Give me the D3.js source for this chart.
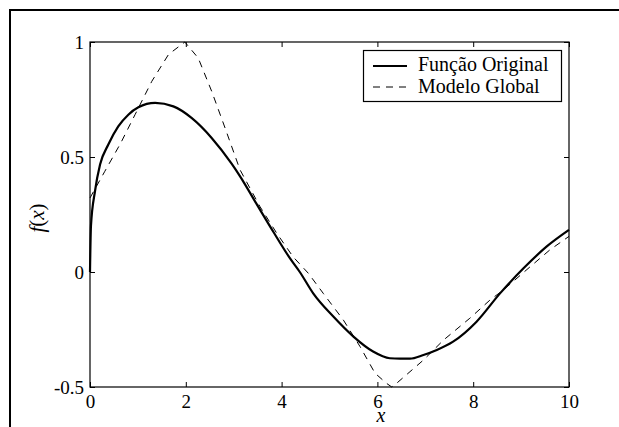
<!DOCTYPE html>
<html><head><meta charset="utf-8">
<script src="https://cdn.jsdelivr.net/npm/d3@7"></script>
<style>html,body{margin:0;padding:0;background:#fff;}svg{display:block;}</style>
</head><body>
<script>
const origX = [0,0.02,0.104,0.21,0.38,0.59,0.80,1.01,1.36,1.74,2.12,2.54,2.96,3.13,3.48,3.83,4.18,4.38,4.66,5.08,5.50,5.91,6.26,6.47,6.68,6.96,7.24,7.58,8.07,8.56,9.05,9.53,10];
const origY = [0,0.2,0.351,0.467,0.553,0.633,0.684,0.716,0.735,0.72,0.67,0.583,0.47,0.417,0.295,0.174,0.058,0.0,-0.093,-0.194,-0.281,-0.346,-0.375,-0.377,-0.377,-0.361,-0.339,-0.303,-0.216,-0.093,0.016,0.11,0.183];
const modelX = [0,0.31,0.64,0.94,1.29,1.64,1.98,2.26,2.54,2.82,3.13,3.55,3.90,4.24,4.56,4.87,5.29,5.64,5.95,6.19,6.3,6.40,6.96,7.38,7.93,8.35,8.63,9.19,9.6,10];
const modelY = [0.322,0.438,0.56,0.684,0.829,0.946,1.0,0.93,0.786,0.626,0.445,0.284,0.168,0.066,-0.006,-0.093,-0.209,-0.325,-0.44,-0.484,-0.5,-0.484,-0.383,-0.296,-0.201,-0.122,-0.078,0.023,0.096,0.155];
const xTicks = [0,2,4,6,8,10];
const yTicks = [-0.5,0,0.5,1];
const yTickLabels = ["-0.5","0","0.5","1"];
const seriesNames = ["Função Original","Modelo Global"];

const W=619,H=427;
const L=90,R=569,T=42,B=387;
const svg=d3.select("body").append("svg").attr("width",W).attr("height",H);
const font="'Liberation Serif','Times New Roman',serif";

svg.append("rect").attr("x",10).attr("y",10).attr("width",800).attr("height",600)
  .attr("fill","none").attr("stroke","#000").attr("stroke-width",2);

const x=d3.scaleLinear().domain([0,10]).range([L,R]);
const y=d3.scaleLinear().domain([-0.5,1]).range([B,T]);

const g=svg.append("g");
const tl=5;
g.append("g").attr("transform",`translate(0,${B})`)
 .call(d3.axisBottom(x).tickValues(xTicks).tickSize(-tl).tickPadding(8).tickFormat(d3.format("d")))
 .call(a=>{a.select(".domain").remove();});
g.append("g").attr("transform",`translate(0,${T})`)
 .call(d3.axisTop(x).tickValues(xTicks).tickSize(-tl).tickFormat(""))
 .call(a=>{a.select(".domain").remove();});
g.append("g").attr("transform",`translate(${L},0)`)
 .call(d3.axisLeft(y).tickValues(yTicks).tickSize(-tl).tickPadding(6).tickFormat((d,i)=>yTickLabels[i]))
 .call(a=>{a.select(".domain").remove();});
g.append("g").attr("transform",`translate(${R},0)`)
 .call(d3.axisRight(y).tickValues(yTicks).tickSize(-tl).tickFormat(""))
 .call(a=>{a.select(".domain").remove();});
g.selectAll(".tick line").attr("stroke","#000").attr("stroke-width",1);
g.selectAll(".tick text").attr("font-family",font).attr("font-size",19).attr("fill","#000");

svg.append("rect").attr("x",L).attr("y",T).attr("width",R-L).attr("height",B-T)
  .attr("fill","none").attr("stroke","#000").attr("stroke-width",1.2);

const lineSolid=d3.line().curve(d3.curveMonotoneX).x(d=>x(d[0])).y(d=>y(d[1]));
const lineDash=d3.line().x(d=>x(d[0])).y(d=>y(d[1]));
svg.append("path").datum(modelX.map((v,i)=>[v,modelY[i]]))
  .attr("d",lineDash).attr("fill","none").attr("stroke","#000").attr("stroke-width",1).attr("stroke-dasharray","7,6");
svg.append("path").datum(origX.map((v,i)=>[v,origY[i]]))
  .attr("d",lineSolid).attr("fill","none").attr("stroke","#000").attr("stroke-width",2.2).attr("stroke-linejoin","round");

const lg=svg.append("g");
lg.append("rect").attr("x",363.5).attr("y",50.5).attr("width",198).attr("height",51)
  .attr("fill","#fff").attr("stroke","#000").attr("stroke-width",1.2);
const rows=[66,87], bases=[71,93];
seriesNames.forEach((n,i)=>{
  lg.append("line").attr("x1",373).attr("x2",407).attr("y1",rows[i]).attr("y2",rows[i])
    .attr("stroke","#000").attr("stroke-width",i===0?2.2:1).attr("stroke-dasharray",i===0?null:"7,6");
  lg.append("text").attr("x",418).attr("y",bases[i]).attr("font-family",font).attr("font-size",20).text(n);
});

svg.append("text").attr("x",381).attr("y",422).attr("text-anchor","middle")
  .attr("font-family",font).attr("font-size",20).attr("font-style","italic").text("x");
const yl=svg.append("text").attr("transform","translate(44,218) rotate(-90)").attr("text-anchor","middle")
  .attr("font-family",font).attr("font-size",21);
yl.append("tspan").attr("font-style","italic").text("f");
yl.append("tspan").text("(");
yl.append("tspan").attr("font-style","italic").text("x");
yl.append("tspan").text(")");
</script>
</body></html>
